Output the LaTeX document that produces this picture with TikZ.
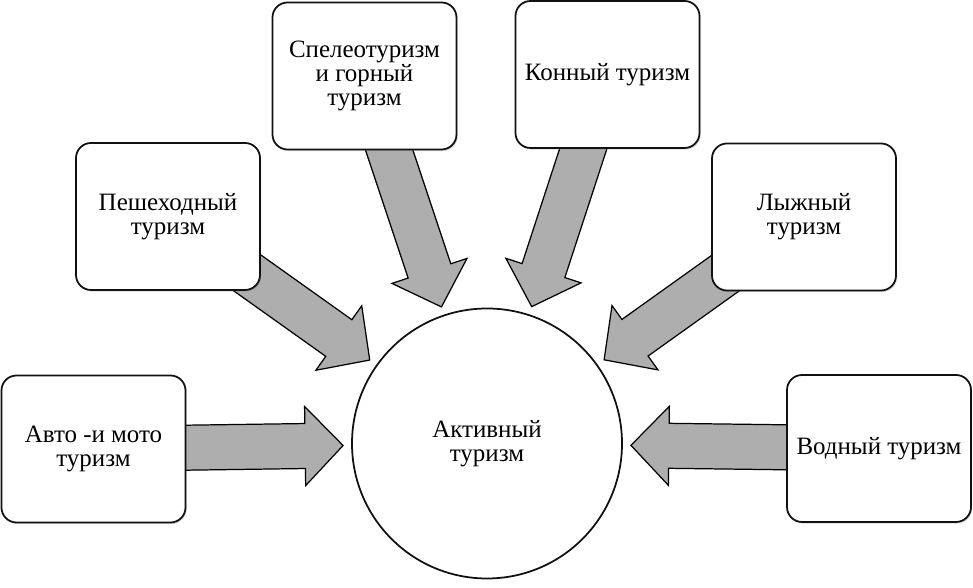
\documentclass[tikz,border=0pt]{standalone}
\usepackage{fontspec}
\setmainfont{Liberation Serif}
\usepackage{tikz}
\usetikzlibrary{calc, shadows, backgrounds}
\usepackage{xcolor}
\definecolor{arrowgray}{HTML}{AEAEAE}
\definecolor{edgeblack}{HTML}{111111}

\newcommand{\fatarrow}[2]{%
  \draw[fatarrow] let \p1=($(#2)-(#1)$), \n1={atan2(\y1,\x1)},
      \n2={veclen(\x1,\y1)-81.9pt}, \n3={\n2-21.6pt} in
    ($(#1)+(\n1+90:12.8pt)$) -- ($(#1)+(\n1:\n3)+(\n1+90:12.8pt)$)
    -- ($(#1)+(\n1:\n3)+(\n1+90:22.5pt)$) -- ($(#1)+(\n1:\n2)$)
    -- ($(#1)+(\n1:\n3)+(\n1-90:22.5pt)$) -- ($(#1)+(\n1:\n3)+(\n1-90:12.8pt)$)
    -- ($(#1)+(\n1-90:12.8pt)$) -- cycle;}

\begin{document}
\begin{tikzpicture}[font=\rmfamily\fontsize{14.2}{13.8}\selectfont,
    tourbox/.style={draw=edgeblack, line width=1pt, fill=white, rounded corners=0.3cm,
      minimum width=3.68cm, minimum height=2.94cm, align=center,
      drop shadow={shadow xshift=0.7pt, shadow yshift=-0.9pt, opacity=0.3}},
    hub/.style={draw=edgeblack, line width=1pt, fill=white, circle, minimum size=5.4cm, align=center},
    fatarrow/.style={draw=black, line width=0.7pt, fill=arrowgray, line join=miter}]
  \useasboundingbox (0,0) rectangle (19.46,11.76);
  \node[hub] (active) at (9.74,2.89) {Активный\\туризм};
  \node[tourbox] (auto) at (1.87,2.78) {Авто -и мото\\туризм};
  \node[tourbox] (walk) at (3.36,7.43) {Пешеходный\\туризм};
  \node[tourbox] (cave) at (7.29,10.24) {Спелеотуризм\\и горный\\туризм};
  \node[tourbox] (horse) at (12.15,10.27) {Конный туризм};
  \node[tourbox] (ski) at (16.08,7.42) {Лыжный\\туризм};
  \node[tourbox] (water) at (17.58,2.79) {Водный туризм};
  \begin{scope}[on background layer]
    \fatarrow{auto}{active}
    \fatarrow{walk}{active}
    \fatarrow{cave}{active}
    \fatarrow{horse}{active}
    \fatarrow{ski}{active}
    \fatarrow{water}{active}
  \end{scope}
\end{tikzpicture}
\end{document}
